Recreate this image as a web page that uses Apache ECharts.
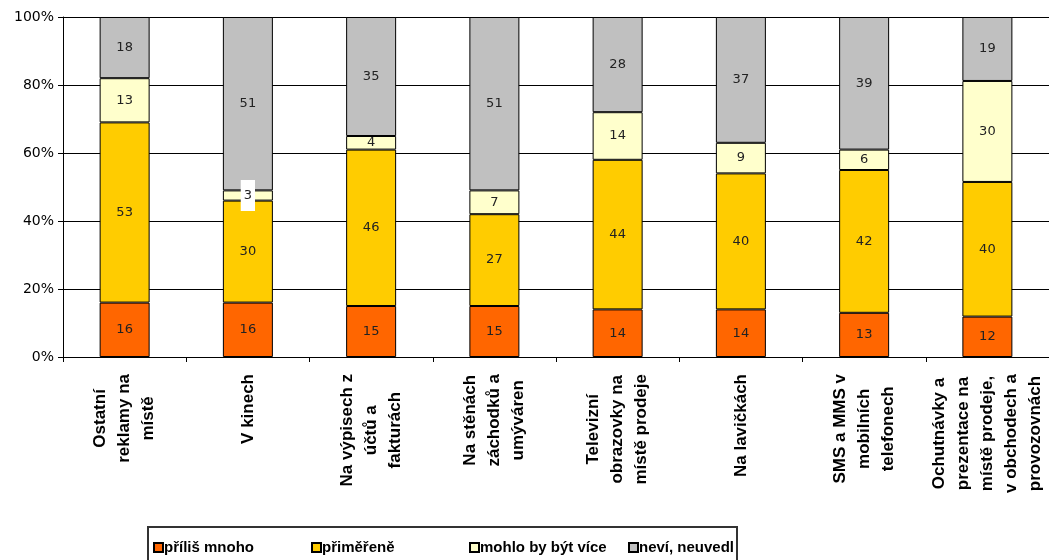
<!DOCTYPE html>
<html>
<head>
<meta charset="utf-8">
<script src="https://cdn.jsdelivr.net/npm/echarts@6/dist/echarts.min.js"></script>
<style>
  html, body { margin: 0; padding: 0; background: #fff; }
  #chart { width: 1049px; height: 560px; }
</style>
</head>
<body>
<div id="chart"></div>
<script>
// categories (line breaks as in the picture)
const categories = [
  'Ostatní\nreklamy na\nmístě',
  'V kinech',
  'Na výpisech z\núčtů a\nfakturách',
  'Na stěnách\nzáchodků a\numýváren',
  'Televizní\nobrazovky na\nmístě prodeje',
  'Na lavičkách',
  'SMS a MMS v\nmobilních\ntelefonech',
  'Ochutnávky a\nprezentace na\nmístě prodeje,\nv obchodech a\nprovozovnách'
];

const seriesNames = ['příliš mnoho', 'přiměřeně', 'mohlo by být více', 'neví, neuvedl'];

const tooMuch   = [16, 16, 15, 15, 14, 14, 13, 12];
const adequate  = [53, 30, 46, 27, 44, 40, 42, 40];
const couldMore = [13, 3, 4, 7, 14, 9, 6, 30];
const unknown   = [18, 51, 35, 51, 28, 37, 39, 19];

const yTicks = [0, 20, 40, 60, 80, 100];

const colors = ['#FF6600', '#FFCC00', '#FFFFCC', '#C0C0C0'];

const raw = [tooMuch, adequate, couldMore, unknown];
// 100% stacked: each column is scaled to its own total
const totals = categories.map((c, i) => raw.reduce((s, arr) => s + arr[i], 0));

const myChart = echarts.init(document.getElementById('chart'));

const series = raw.map((arr, k) => ({
  name: seriesNames[k],
  type: 'bar',
  stack: 'all',
  barWidth: 50,
  itemStyle: { color: colors[k], borderColor: '#000', borderWidth: 1 },
  label: {
    show: true,
    position: 'inside',
    color: '#222',
    fontFamily: 'DejaVu Sans, sans-serif',
    fontSize: 13,
    formatter: p => arr[p.dataIndex]
  },
  data: arr.map((v, i) => {
    const item = { value: v / totals[i] * 100 };
    // the small "3" in V kinech sits on a white box in the original
    if (k === 2 && i === 1) {
      item.label = { backgroundColor: '#fff', padding: [9, 3] };
    }
    return item;
  })
}));

// one legend per entry so each sits where it does in the original
const legendLeft = [153, 311, 469, 628];
const legends = seriesNames.map((n, k) => ({
  left: legendLeft[k],
  top: 540,
  padding: 0,
  itemWidth: 9,
  itemHeight: 9,
  icon: 'rect',
  textStyle: { fontSize: 15, fontWeight: 'bold', color: '#000', padding: [0, 0, 0, -4] },
  data: [n]
}));

myChart.setOption({
  animation: false,
  textStyle: { fontFamily: 'Liberation Sans, Arial, sans-serif' },
  grid: { left: 63, top: 17, width: 990, height: 340, containLabel: false },
  legend: legends,
  graphic: [{
    type: 'rect',
    silent: true,
    shape: { x: 148, y: 527, width: 589, height: 45 },
    style: { fill: 'none', stroke: '#333', lineWidth: 2 }
  }],
  xAxis: {
    type: 'category',
    data: categories,
    axisLine: { lineStyle: { color: '#000', width: 1 } },
    axisTick: { show: true, length: 5, lineStyle: { color: '#000' } },
    axisLabel: {
      interval: 0,
      rotate: 90,
      margin: 17,
      formatter: v => v.split('\n').map(l => '{a|' + l + '}').join('\n'),
      rich: {
        a: {
          align: 'center',
          fontSize: 17,
          fontWeight: 'bold',
          color: '#000',
          lineHeight: 24,
          fontFamily: 'Liberation Sans, Arial, sans-serif'
        }
      }
    }
  },
  yAxis: {
    type: 'value',
    min: 0,
    max: 100,
    interval: 20,
    axisLine: { show: true, lineStyle: { color: '#000' } },
    axisTick: { show: true, length: 5, lineStyle: { color: '#000' } },
    splitLine: { show: true, lineStyle: { color: '#000', width: 1 } },
    axisLabel: {
      margin: 9,
      fontSize: 14,
      color: '#000',
      fontFamily: 'DejaVu Sans, sans-serif',
      formatter: v => yTicks.includes(v) ? v + '%' : ''
    }
  },
  series: series
});
</script>
</body>
</html>
